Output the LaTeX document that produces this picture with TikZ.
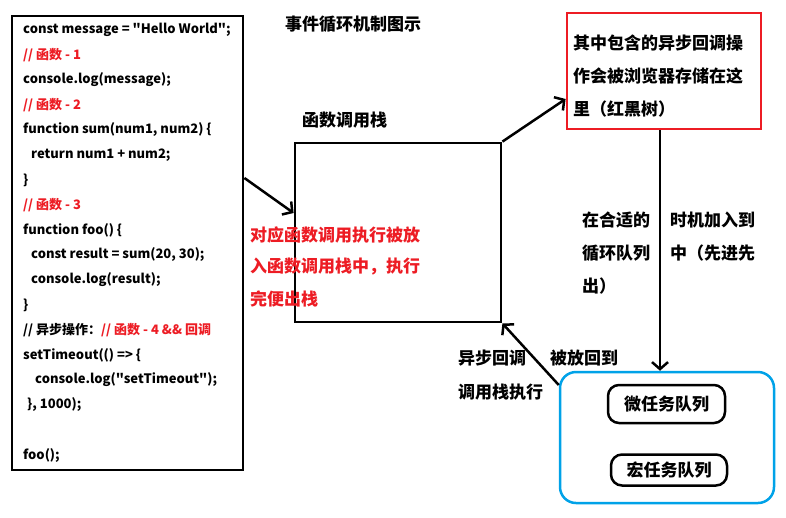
\documentclass[tikz,border=0pt]{standalone}
\usepackage{fontspec}
\setmainfont{Noto Sans CJK SC}
\newfontfamily\codefont{Noto Sans CJK SC}
\usepackage{tikz}
\usetikzlibrary{
	arrows.meta,
	positioning
}
\usepackage{xcolor}
\definecolor{paintred}{RGB}{237,28,36}
\definecolor{paintblue}{RGB}{0,162,232}

\tikzset{
	box/.style={draw, line width=2.8pt, inner sep=0pt},
	codeline/.style={anchor=west, inner sep=0pt, font=\codefont\fontsize{13}{15}\selectfont\bfseries},
	label/.style={anchor=west, inner sep=0pt, font=\fontsize{17}{20}\selectfont\bfseries},
	arr/.style={line width=2.5pt, -{Straight Barb[length=7pt,width=16pt,line width=2.5pt]}},
	queue/.style={draw, line width=2.5pt, rounded corners=11pt, inner sep=0pt}
}

\begin{document}
\begin{tikzpicture}[x=1pt,y=-1pt]
		
		\useasboundingbox[fill=white] (0,0) rectangle (786,517);
		
		% code
		\node[box, minimum width=231pt, minimum height=454pt] (code) at (127.5,243) {};
		\node[codeline] (c1) at (23,30) {const message = "Hello World";};
		\node[codeline, text=paintred] (c2) at (23,55) {// 函数 - 1};
		\node[codeline] (c3) at (23,80) {console.log(message);};
		\node[codeline, text=paintred] (c4) at (23,105) {// 函数 - 2};
		\node[codeline] (c5) at (23,130) {function sum(num1, num2) \{};
		\node[codeline] (c6) at (31,155) {return num1 + num2;};
		\node[codeline] (c7) at (23,180) {\}};
		\node[codeline, text=paintred] (c8) at (23,205) {// 函数 - 3};
		\node[codeline] (c9) at (23,230) {function foo() \{};
		\node[codeline] (c10) at (31,255) {const result = sum(20, 30);};
		\node[codeline] (c11) at (31,280) {console.log(result);};
		\node[codeline] (c12) at (23,305) {\}};
		\node[codeline] (c13) at (23,330) {// 异步操作：\textcolor{paintred}{// 函数 - 4 \&\& 回调}};
		\node[codeline] (c14) at (23,355) {setTimeout(() => \{};
		\node[codeline] (c15) at (35,380) {console.log("setTimeout");};
		\node[codeline] (c16) at (27,405) {\}, 1000);};
		\node[codeline] (c17) at (23,455) {foo();};
		
		% title
		\node[label, anchor=center] (title) at (353,24) {事件循环机制图示};
		
		% call stack
		\node[box, minimum width=206pt, minimum height=179pt] (stack) at (398,232.5) {};
		\node[label] (stacktitle) at (302,120) {函数调用栈};
		\node[label, text=paintred] (s1) at (250,235) {对应函数调用执行被放};
		\node[label, text=paintred] (s2) at (250,267) {入函数调用栈中，执行};
		\node[label, text=paintred] (s3) at (250,299) {完便出栈};
		
		% browser store
		\node[box, draw=paintred, minimum width=194pt, minimum height=116pt] (store) at (664,71) {};
		\node[label] (r1) at (573,43) {其中包含的异步回调操};
		\node[label] (r2) at (573,76) {作会被浏览器存储在这};
		\node[label] (r3) at (573,109) {里（红黑树）};
		
		% queues
		\node[queue, draw=paintblue, rounded corners=16pt, minimum width=214pt, minimum height=131pt] (queues) at (667,437.5) {};
		\node[queue, minimum width=117pt, minimum height=38pt, font=\fontsize{17}{20}\selectfont\bfseries] (micro) at (666.5,404) {微任务队列};
		\node[queue, minimum width=116pt, minimum height=31pt, font=\fontsize{17}{20}\selectfont\bfseries] (macro) at (669,470) {宏任务队列};
		
		\node[label] (m1) at (582,220) {在合适的};
		\node[label] (m2) at (582,253) {循环队列};
		\node[label] (m3) at (582,286) {出）};
		\node[label] (m4) at (670,220) {时机加入到};
		\node[label] (m5) at (670,253) {中（先进先};
		
		\node[label] (b1) at (458,358) {异步回调};
		\node[label] (b2) at (458,392) {调用栈执行};
		\node[label] (b3) at (550,358) {被放回到};
		
		% connectors
		\draw[arr] (code.east |- 0,178) -- (stack.west |- 0,213);
		\draw[arr] (stack.north east) -- (store.west |- 0,99);
		\draw[arr] (660,0 |- store.south) -- (660,0 |- queues.north);
		\draw[arr] (queues.west |- 0,385) -- (stack.south east);
		
	\end{tikzpicture}
\end{document}
